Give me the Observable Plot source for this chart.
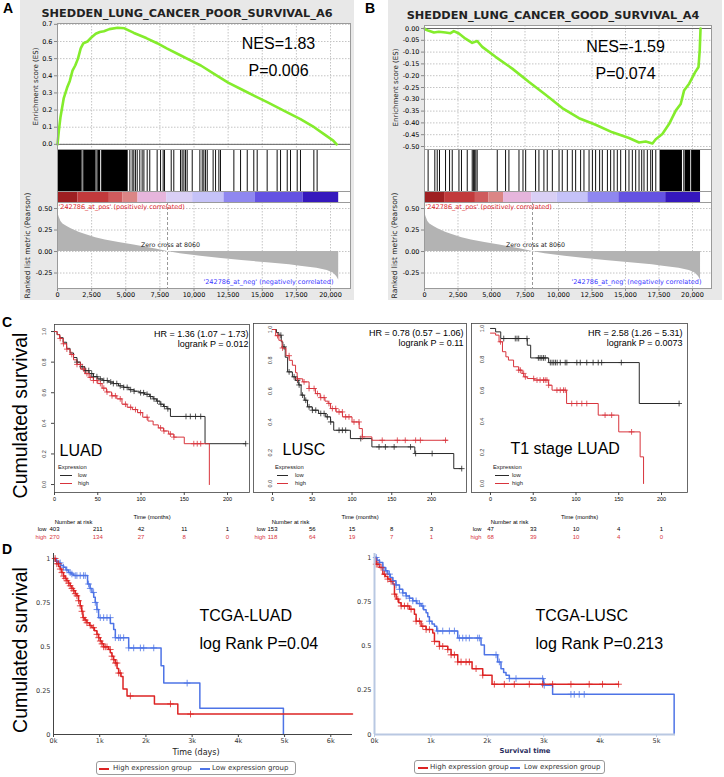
<!DOCTYPE html>
<html><head><meta charset="utf-8">
<script src="https://cdn.jsdelivr.net/npm/d3@7"></script>
<script src="https://cdn.jsdelivr.net/npm/@observablehq/plot@0.6"></script>
<style>
body{margin:0;background:#fff;}
#root{position:relative;width:724px;height:777px;overflow:hidden;font-family:"Liberation Sans",Arial,sans-serif;background:#fff;}
.abs{position:absolute;white-space:nowrap;}
</style></head><body><div id="root"></div>
<script>
// ---------------- DATA ----------------
// GSEA (panels A, B)
const rankTicks = [0, 2500, 5000, 7500, 10000, 12500, 15000, 17500, 20000];
const esTicksA = [0, 0.1, 0.2, 0.3, 0.4, 0.5, 0.6, 0.7];
const esTicksB = [0, -0.05, -0.1, -0.15, -0.2, -0.25, -0.3, -0.35, -0.4, -0.45, -0.5];
const metricTicks = [0.5, 0.25, 0, -0.25];
const zeroCross = 8060;
const esA = [[0,0],[100,0.08],[220,0.16],[460,0.27],[700,0.33],[900,0.37],[1100,0.43],[1300,0.46],[1500,0.5],[1700,0.56],[1900,0.59],[2200,0.6],[2500,0.625],[2800,0.645],[3100,0.655],[3400,0.66],[3800,0.672],[4400,0.68],[4900,0.677],[5600,0.65],[6500,0.62],[7300,0.59],[8000,0.56],[9000,0.52],[10000,0.48],[10500,0.46],[11500,0.41],[12500,0.36],[13500,0.32],[14500,0.28],[15400,0.245],[16500,0.2],[17800,0.147],[18800,0.1],[19600,0.055],[20200,0.022],[20450,0]];
const esB = [[0,0],[75,-0.004],[320,-0.01],[700,-0.017],[1070,-0.014],[1570,-0.017],[1940,-0.02],[2190,-0.011],[2570,-0.021],[3060,-0.043],[3560,-0.061],[3930,-0.053],[4310,-0.078],[5300,-0.12],[6550,-0.17],[7800,-0.227],[9040,-0.281],[10280,-0.337],[11530,-0.38],[12770,-0.408],[14020,-0.44],[15260,-0.464],[16010,-0.483],[16510,-0.479],[17010,-0.487],[17260,-0.469],[17750,-0.447],[18250,-0.405],[18750,-0.348],[19120,-0.32],[19370,-0.263],[19750,-0.234],[20200,-0.185],[20450,-0.163],[20540,-0.092],[20600,0]];
const hitBlocksA = [[0,1810],[1930,2830],[2960,3150],[3270,5180]];
const hitLinesA = [1870,2890,3210,5300,5470,5590,5710,5840,6030,6200,6330,6570,6760,7300,7550,7740,7840,8330,8520,9010,9130,9260,9380,9500,9870,10430,10600,10720,10840,10970,11400,11580,11820,11940,12920,13410,13900,14380,14630,15360,16090,16340,16830,17070,17560,17800,18780,19020];
const hitBlocksB = [[17580,19250],[19450,19870],[20000,20600]];
const hitLinesB = [270,770,950,1120,1570,1870,2070,2570,2760,3190,3560,3650,3740,3830,3930,5430,6050,6300,7050,7350,7550,8290,8540,8910,9160,9540,10040,10280,10660,11030,11280,11650,11900,12280,12530,12770,13070,13270,13650,13890,14140,14390,14640,15010,15260,15510,15760,16010,16210,16380,16630,16880,17010,17260,19350,19930];
const barEdges = [0, 1500, 3800, 4800, 5900, 8000, 9900, 12200, 14500, 18000, 20600];
const metric = [[0,0.48],[40,0.44],[120,0.4],[250,0.35],[400,0.32],[700,0.29],[1000,0.265],[1570,0.225],[2000,0.2],[2800,0.16],[3500,0.135],[4500,0.105],[5600,0.075],[6500,0.05],[7300,0.025],[8060,0],[9000,-0.025],[10480,-0.055],[12000,-0.08],[13500,-0.105],[15360,-0.13],[17000,-0.155],[17800,-0.17],[19000,-0.195],[19760,-0.22],[20200,-0.25],[20450,-0.29],[20600,-0.33]];

// Kaplan-Meier (panel C), time in months, [time, survival]
const monthTicks = [0, 50, 100, 150, 200];
const survTicks = [0, 0.2, 0.4, 0.6, 0.8, 1];
const luadLow = [[0,1],[3,0.98],[6,0.96],[10,0.93],[14,0.89],[18,0.86],[22,0.83],[26,0.8],[30,0.77],[35,0.745],[40,0.725],[45,0.705],[50,0.69],[56,0.68],[62,0.67],[68,0.66],[74,0.645],[80,0.635],[86,0.62],[92,0.61],[98,0.6],[104,0.59],[110,0.575],[114,0.56],[118,0.545],[122,0.525],[126,0.51],[130,0.495],[134,0.445],[174,0.267],[221,0.267]];
const luadHigh = [[0,1],[3,0.98],[6,0.955],[10,0.92],[14,0.885],[18,0.85],[22,0.815],[26,0.785],[30,0.755],[35,0.725],[40,0.7],[45,0.68],[50,0.66],[55,0.63],[60,0.605],[66,0.58],[72,0.56],[78,0.525],[84,0.505],[90,0.49],[96,0.47],[102,0.44],[108,0.415],[114,0.39],[120,0.37],[126,0.35],[132,0.33],[138,0.31],[150,0.267],[179,0]];
const luadLowCens = [26,32,36,39.6,43,45,49,53,57,61,65,68,72,76,80,84,88,92,99.5,103,107,111,115,119,123,127,131,152,157,163,169,221];
const luadHighCens = [6.6,10.4,14.3,20,26,29.8,33.7,37.5,41.4,45,49,53,57,60.7,66.5,70.4,76,82,88,93.6,99.4,107,122.6,126.5,134,138,161,165,169];
const luscLow = [[0,1],[5,0.98],[8,0.963],[11,0.92],[13,0.887],[16,0.82],[19,0.725],[25,0.693],[29,0.67],[33,0.64],[36,0.574],[40,0.541],[44,0.498],[50,0.476],[58,0.455],[67,0.433],[73,0.4],[77,0.346],[98,0.292],[125,0.238],[179,0.195],[228,0.097],[238,0.097]];
const luscHigh = [[0,1],[4,0.96],[8,0.93],[12,0.88],[17,0.83],[21,0.8],[25,0.768],[29,0.72],[31,0.68],[38,0.66],[46,0.617],[54,0.584],[60,0.558],[66,0.535],[70,0.52],[73,0.487],[80,0.465],[88,0.433],[100,0.4],[109,0.357],[113,0.303],[125,0.281],[220,0.281]];
const luscLowCens = [10.5,14.6,20.9,27.2,31.4,33.5,37.7,41.8,46,50.2,54.4,60.7,64.9,69,73.2,83.7,87.9,92,111,134,142,153,173.6,180,200.8,238];
const luscHighCens = [6.3,12.6,20.9,31.4,39.7,46,52.3,56.5,60.7,64.9,71,75.3,79.5,83.7,87.9,92,96.2,102.5,108.8,113,138,157,167,180,186,217.6];
const t1Low = [[0,1],[6,0.978],[12,0.935],[43,0.892],[47,0.81],[68,0.78],[174,0.516],[221,0.516]];
const t1High = [[0,0.97],[6,0.957],[10,0.914],[14,0.85],[18,0.817],[21,0.796],[27,0.753],[33,0.731],[37,0.71],[39,0.688],[43,0.677],[51,0.667],[68,0.634],[72,0.602],[89,0.516],[126,0.441],[150,0.333],[175,0.172],[179,0]];
const t1LowCens = [15.5,29,31,33,42.7,56,58,60,62,64,70,72,74,76,78,81.6,87.4,89.3,101,105,112.6,120,126,130,153,220.6];
const t1HighCens = [11.7,33,35,38.8,40.8,50.5,54.4,58,62,64,66,68,77.7,81.6,85.4,87.4,95,101,106.8,112.6,134,141.7,165];
const riskLUAD = {low:[403,211,42,11,1], high:[270,134,27,8,0]};
const riskLUSC = {low:[153,56,15,8,3], high:[118,64,19,7,1]};
const riskT1 = {low:[47,33,10,4,1], high:[68,39,10,4,0]};

// TCGA (panel D), time in days
const dayTicksLUAD = [0,1000,2000,3000,4000,5000,6000];
const dayTicksLUSC = [0,1000,2000,3000,4000,5000];
const survTicksD = [0, 0.25, 0.5, 0.75, 1];
const tcgaLuadLow = [[0,1],[60,0.985],[110,0.975],[160,0.96],[217,0.95],[270,0.935],[325,0.92],[380,0.912],[434,0.903],[737,0.855],[790,0.83],[832,0.807],[870,0.78],[904,0.75],[940,0.71],[976,0.664],[1230,0.63],[1302,0.597],[1338,0.55],[1627,0.492],[2328,0.391],[2386,0.292],[3167,0.149],[4975,0]];
const tcgaLuadHigh = [[0,1],[40,0.985],[72,0.97],[110,0.955],[145,0.94],[180,0.92],[217,0.9],[253,0.887],[289,0.874],[325,0.86],[361,0.845],[398,0.83],[434,0.817],[470,0.8],[506,0.788],[542,0.76],[578,0.731],[610,0.7],[636,0.664],[680,0.65],[723,0.635],[780,0.62],[832,0.607],[886,0.59],[940,0.569],[976,0.55],[1012,0.531],[1048,0.515],[1085,0.498],[1193,0.483],[1230,0.465],[1265,0.445],[1300,0.425],[1338,0.406],[1375,0.375],[1410,0.349],[1461,0.33],[1504,0.258],[1591,0.219],[2184,0.174],[2690,0.116],[6470,0.116]];
const tcgaLuadLowCens = [72,145,217,289,361,398,470,506,578,651,687,759,795,868,904,940,1012,1085,1157,1229,1338,1410,1446,1518,1627,1735,1880,1952,2169,2892];
const tcgaLuadHighCens = [36,72,108,145,181,217,253,289,325,361,398,434,470,506,542,578,615,651,687,723,795,868,940,976,1012,1048,1085,1121,1157,1229,1265,1302,1338,1374,1410,1446,1663,2531,2965];
const tcgaLuscLow = [[0,1],[45,0.985],[89,0.972],[148,0.944],[190,0.925],[236,0.906],[280,0.887],[325,0.868],[380,0.845],[443,0.82],[500,0.8],[561,0.783],[620,0.77],[679,0.755],[750,0.74],[826,0.726],[870,0.705],[915,0.688],[945,0.665],[974,0.64],[1020,0.625],[1063,0.612],[1104,0.585],[1476,0.545],[1889,0.506],[1948,0.45],[2184,0.41],[2243,0.372],[2290,0.35],[2332,0.335],[2391,0.316],[2999,0.278],[3158,0.227],[5313,0]];
const tcgaLuscHigh = [[0,1],[30,0.962],[89,0.944],[148,0.906],[190,0.892],[236,0.878],[280,0.865],[325,0.85],[354,0.793],[384,0.765],[430,0.745],[472,0.726],[620,0.708],[708,0.68],[738,0.64],[826,0.612],[915,0.593],[1033,0.574],[1063,0.526],[1151,0.498],[1299,0.48],[1358,0.45],[1476,0.41],[1730,0.372],[1919,0.335],[2084,0.284],[4327,0.284]];
const tcgaLuscLowCens = [30,89,148,207,266,325,384,443,502,561,620,679,738,797,856,974,1122,1210,1328,1417,1505,1564,1623,1682,1830,1860,2155,2214,2391,2509,2981,3010,3483,3542,3630,3719];
const tcgaLuscHighCens = [30,59,118,177,236,295,354,413,472,531,590,649,738,797,856,915,974,1063,1151,1210,1299,1358,1417,1476,1535,1623,1682,1801,1919,2125,2302,2479,2745,2981,3158,3483,3807,4043,4327];

// ---------------- HELPERS ----------------
const root = document.getElementById("root");
function mk(box, m, opts) {
  const [x0, y0, x1, y1] = box;
  const {fontFamily = "DejaVu Sans", ...rest} = opts;
  const svg = Plot.plot({
    width: x1 - x0 + m[1] + m[3], height: y1 - y0 + m[0] + m[2],
    marginTop: m[0], marginRight: m[1], marginBottom: m[2], marginLeft: m[3],
    ...rest,
    style: {background: "transparent", overflow: "visible", fontFamily, fontSize: "7px", color: "#000"}
  });
  svg.style.position = "absolute";
  svg.style.left = (x0 - m[3]) + "px";
  svg.style.top = (y0 - m[0]) + "px";
  root.appendChild(svg);
  return svg;
}
function div(x, y, w, h, st) {
  const d = document.createElement("div");
  d.className = "abs";
  Object.assign(d.style, {left: x + "px", top: y + "px", width: w + "px", height: h + "px"}, st || {});
  root.appendChild(d);
  return d;
}
function txt(s, x, yc, size, st) {
  const d = document.createElement("div");
  d.className = "abs";
  d.textContent = s;
  Object.assign(d.style, {left: x + "px", top: (yc - size * 0.6) + "px", fontSize: size + "px", lineHeight: (size * 1.2) + "px"}, st || {});
  root.appendChild(d);
  return d;
}
function stepAt(curve, t) {
  let s = curve[0][1];
  for (const [tt, ss] of curve) { if (tt <= t) s = ss; else break; }
  return s;
}
const cens = (curve, times) => times.map(t => [t, stepAt(curve, t)]);
// label text: centred on its anchor point
const T = (s, o) => Plot.text([s], {text: d => d, lineAnchor: "middle", ...o});

// ---------------- PANELS A / B ----------------
const GREEN = "#84ec2c";
const barColors = ["#9e1f22", "#c23a3c", "#cf5b5d", "#db8585", "#e6b5dc", "#d9cff5", "#c5c2f8", "#8f87f0", "#6452e2", "#3518bd"];
const barBins = barEdges.slice(0, -1).map((e, i) => ({x1: e, x2: barEdges[i + 1], level: i}));
const dash = {stroke: "#c4c4c4", strokeOpacity: 1, strokeDasharray: "1.5,1.5"};

function gsea(g) {
  const X = {domain: [0, g.xMax], axis: null};
  div(g.gx0, 0, g.gx1 - g.gx0, 300, {background: "#e8e8e8"});
  mk([g.fx0, g.esTop, g.fx1, 149], [18, 4, 2, 36], {
    x: X, y: {domain: g.esDomain, axis: null},
    marks: [
      Plot.frame({fill: "white", stroke: "none"}),
      Plot.gridX(rankTicks, dash),
      Plot.gridY(g.esTicks, dash),
      Plot.ruleY([0], {stroke: "#666"}),
      Plot.line(g.es, {x: d => d[0], y: d => d[1], stroke: GREEN, strokeWidth: 2.6}),
      Plot.axisY(g.esTicks, {tickSize: 3, tickPadding: 2, tickFormat: d => d.toFixed(g.esDigits), fontSize: 6.5, stroke: "#888", label: null}),
      Plot.frame({stroke: "#9a9a9a"}),
      T(g.title, {frameAnchor: "top", dy: -10, dx: g.titleDx, fontSize: 11.3, fontWeight: "bold", fill: "#222", textAnchor: "middle"}),
      T("Enrichment score (ES)", {frameAnchor: "left", dx: g.esLabDx, rotate: -90, fontSize: 7, fill: "#222", textAnchor: "middle"}),
      T(g.nes, {frameAnchor: "top-right", dx: g.nesDx, dy: g.nesDy, fontSize: 16, fontFamily: "Liberation Sans", textAnchor: "middle"}),
      T(g.p, {frameAnchor: "top-right", dx: g.nesDx, dy: g.nesDy + 27, fontSize: 16, fontFamily: "Liberation Sans", textAnchor: "middle"})
    ]
  });
  mk([g.fx0, 149, g.fx1, 191], [0, 0, 0, 0], {
    x: X,
    marks: [
      Plot.frame({fill: "white", stroke: "none"}),
      Plot.rect(g.blocks, {x1: d => d[0], x2: d => d[1], fill: "#000"}),
      Plot.ruleX(g.lines, {stroke: "#111", strokeWidth: 1}),
      Plot.frame({stroke: "#9a9a9a"})
    ]
  });
  mk([g.fx0, 191, g.fx1, 202], [0, 0, 0, 0], {
    x: X, color: {type: "ordinal", domain: barColors.map((c, i) => i), range: barColors},
    marks: [
      Plot.frame({fill: "white", stroke: "none"}),
      Plot.rect(barBins, {x1: "x1", x2: "x2", fill: "level"}),
      Plot.frame({stroke: "#9a9a9a"})
    ]
  });
  mk([g.fx0, 202, g.fx1, 288], [0, 4, 14, 36], {
    x: X, y: {domain: [-0.43, 0.57], axis: null},
    marks: [
      Plot.frame({fill: "white", stroke: "none"}),
      Plot.gridX(rankTicks, dash),
      Plot.gridY(metricTicks, dash),
      Plot.areaY(metric, {x: d => d[0], y: d => d[1], fill: "#b3b3b3"}),
      Plot.ruleX([zeroCross], {stroke: "#999", strokeDasharray: "3,2"}),
      Plot.axisX(rankTicks, {tickSize: 3, tickPadding: 1, tickFormat: d3.format(","), fontSize: 6.5, stroke: "#888", label: null}),
      Plot.axisY(metricTicks, {tickSize: 3, tickPadding: 2, tickFormat: d => d.toFixed(2), fontSize: 6.5, stroke: "#888", label: null}),
      Plot.text([zeroCross], {x: d => d, y: 0, text: d => "Zero cross at " + d, dy: -7, dx: 3, fontSize: 6.3, fill: "#222"}),
      T("'242786_at_pos' (positively correlated)", {frameAnchor: "top-left", dx: 1, dy: 4, fontSize: 6.5, fill: "#e0282e", textAnchor: "start"}),
      T("'242786_at_neg' (negatively correlated)", {frameAnchor: "bottom-right", dx: g.negDx, dy: -7, fontSize: 6.5, fill: "#3a36ff", textAnchor: "end"}),
      T("Ranked list metric (Pearson)", {frameAnchor: "left", dx: -30, rotate: -90, fontSize: 7.5, fill: "#222", textAnchor: "middle"}),
      Plot.frame({stroke: "#9a9a9a"})
    ]
  });
}

gsea({gx0: 20, gx1: 354, fx0: 57, fx1: 350, xMax: 21465, esTop: 23, esDomain: [-0.03, 0.705], esTicks: esTicksA, esDigits: 1, es: esA,
  title: "SHEDDEN_LUNG_CANCER_POOR_SURVIVAL_A6", titleDx: -17, esLabDx: -22, nes: "NES=1.83", p: "P=0.006", nesDx: -72, nesDy: 20,
  blocks: hitBlocksA, lines: hitLinesA, negDx: -17});
gsea({gx0: 388, gx1: 722, fx0: 424, fx1: 711, xMax: 21418, esTop: 25, esDomain: [-0.5127, 0.0127], esTicks: esTicksB, esDigits: 2, es: esB,
  title: "SHEDDEN_LUNG_CANCER_GOOD_SURVIVAL_A4", titleDx: -15, esLabDx: -29, nes: "NES=-1.59", p: "P=0.074", nesDx: -86, nesDy: 21,
  blocks: hitBlocksB, lines: hitLinesB, negDx: -10});

// ---------------- PANEL C ----------------
const KBLACK = "#2a2a2a", KRED = "#d8343c";
function km(c) {
  const rows = monthTicks.map((t, i) => ({t, low: c.risk.low[i], high: c.risk.high[i]}));
  const marks = [
    Plot.frame({stroke: "#444", strokeWidth: 0.8}),
    Plot.line(c.low, {x: d => d[0], y: d => d[1], curve: "step-after", stroke: KBLACK, strokeWidth: 1}),
    Plot.line(c.high, {x: d => d[0], y: d => d[1], curve: "step-after", stroke: KRED, strokeWidth: 1}),
    Plot.dot(cens(c.low, c.lowCens), {x: d => d[0], y: d => d[1], symbol: "plus", r: 2, stroke: KBLACK, strokeWidth: 0.8}),
    Plot.dot(cens(c.high, c.highCens), {x: d => d[0], y: d => d[1], symbol: "plus", r: 2, stroke: KRED, strokeWidth: 0.8}),
    Plot.axisX(monthTicks, {tickSize: 3, tickPadding: 1.5, fontSize: 5.5, stroke: "#444", label: null}),
    Plot.text(survTicks, {y: d => d, text: d => d.toFixed(1), frameAnchor: "left", dx: c.yLabDx, rotate: -90, fontSize: 5.5, fill: "#333", textAnchor: "middle", lineAnchor: "middle"}),
    T(c.hr, {frameAnchor: "top-right", dx: c.hrDx, dy: 10, fontSize: 9, textAnchor: "end"}),
    T(c.lr, {frameAnchor: "top-right", dx: c.hrDx, dy: 20, fontSize: 9, textAnchor: "end"}),
    T(c.name, {frameAnchor: "top-left", dx: c.nameDx, dy: c.nameDy, fontSize: 16, textAnchor: "start"}),
    T("Time (months)", {frameAnchor: "bottom", dy: 25, fontSize: 5.8, textAnchor: "middle"}),
    T("Number at risk", {frameAnchor: "bottom-left", dx: c.narDx, dy: 30, fontSize: 5.8, textAnchor: "middle"}),
    T("low", {frameAnchor: "bottom-left", dx: c.rowDx, dy: 37, fontSize: 5.8, textAnchor: "end"}),
    T("high", {frameAnchor: "bottom-left", dx: c.rowDx, dy: 45, fontSize: 5.8, textAnchor: "end", fill: KRED}),
    Plot.text(rows, {x: "t", text: "low", frameAnchor: "bottom", dy: 37, fontSize: 6, lineAnchor: "middle"}),
    Plot.text(rows, {x: "t", text: "high", frameAnchor: "bottom", dy: 45, fontSize: 6, fill: KRED, lineAnchor: "middle"})
  ];
  if (c.yTicks) marks.push(Plot.axisY(survTicks, {tickSize: 3, tickFormat: () => "", stroke: "#444", label: null}));
  if (c.bigLabel) marks.push(T("Cumulated survival", {frameAnchor: "left", dx: -34, dy: 7, rotate: -90, fontSize: 19.5, textAnchor: "middle"}));
  mk(c.box, [4, 4, 52, 45], {
    fontFamily: "Liberation Sans",
    x: {domain: c.xDomain, axis: null}, y: {domain: c.yDomain, axis: null},
    marks
  });
  // legend
  const [lx, ly] = c.leg;
  txt("Expression", lx, ly, 5.8, {color: "#222"});
  div(lx + 2, ly + 8, c.legW, 0, {borderTop: "1px solid " + KBLACK});
  txt("low", lx + c.legTx, ly + 8, 5.8, {color: "#222"});
  div(lx + 2, ly + 16, c.legW, 0, {borderTop: "1px solid " + KRED});
  txt("high", lx + c.legTx, ly + 16, 5.8, {color: "#222"});
}
km({box: [54, 324, 249, 492], xDomain: [0, 225.4], yDomain: [-0.052, 1.046], low: luadLow, high: luadHigh, lowCens: luadLowCens, highCens: luadHighCens,
  yLabDx: -10, yTicks: true, hr: "HR = 1.36 (1.07 \u2212 1.73)", lr: "logrank P = 0.012", hrDx: -1, name: "LUAD", nameDx: 5, nameDy: 126,
  narDx: 19, rowDx: -8, risk: riskLUAD, bigLabel: true, leg: [58, 467], legW: 12, legTx: 20});
km({box: [253, 323, 466, 492], xDomain: [-23.9, 244], yDomain: [-0.058, 1.039], low: luscLow, high: luscHigh, lowCens: luscLowCens, highCens: luscHighCens,
  yLabDx: 17, yTicks: false, hr: "HR = 0.78 (0.57 \u2212 1.06)", lr: "logrank P = 0.11", hrDx: -3, name: "LUSC", nameDx: 29, nameDy: 126,
  narDx: 37, rowDx: 12, risk: riskLUSC, bigLabel: false, leg: [275, 467], legW: 11, legTx: 20});
km({box: [471, 323, 687, 492], xDomain: [-22.2, 230.4], yDomain: [-0.058, 1.032], low: t1Low, high: t1High, lowCens: t1LowCens, highCens: t1HighCens,
  yLabDx: 11, yTicks: false, hr: "HR = 2.58 (1.26 \u2212 5.31)", lr: "logrank P = 0.0073", hrDx: -5, name: "T1 stage LUAD", nameDx: 39, nameDy: 125,
  narDx: 38, rowDx: 10, risk: riskT1, bigLabel: false, leg: [493, 467], legW: 14, legTx: 19});

// ---------------- PANEL D ----------------
const DRED = "#dd2424", DBLUE = "#4e74e6";
function tcga(t) {
  const marks = [
    Plot.line(t.low, {x: d => d[0], y: d => d[1], curve: "step-after", stroke: DBLUE, strokeWidth: 1.5}),
    Plot.line(t.high, {x: d => d[0], y: d => d[1], curve: "step-after", stroke: DRED, strokeWidth: 1.5}),
    Plot.dot(cens(t.low, t.lowCens), {x: d => d[0], y: d => d[1], symbol: "plus", r: 2.3, stroke: DBLUE, strokeOpacity: 0.8, strokeWidth: 1}),
    Plot.dot(cens(t.high, t.highCens), {x: d => d[0], y: d => d[1], symbol: "plus", r: 2.3, stroke: DRED, strokeOpacity: 0.8, strokeWidth: 1}),
    Plot.ruleX([0], {stroke: t.axisColor, strokeWidth: t.axisW}),
    Plot.ruleY([0], {stroke: t.axisColor, strokeWidth: t.axisW}),
    Plot.axisX(t.ticks, {tickSize: 3, tickPadding: 1, tickFormat: d => (d / 1000) + "k", fontSize: 6.5, stroke: t.axisColor, fill: "#333", label: null}),
    Plot.axisY(survTicksD, {tickSize: 0, tickPadding: 3, tickFormat: d => String(d), fontSize: 6.5, fill: "#333", label: null}),
    T(t.xlab, {frameAnchor: "bottom", dx: t.xlabDx, dy: t.xlabDy, fontSize: t.xlabSize, fontWeight: t.xlabWeight, fill: t.xlabColor, textAnchor: "middle"}),
    T(t.name, {frameAnchor: "top-left", dx: t.nameDx, dy: 62, fontSize: 16, fontFamily: "Liberation Sans", textAnchor: "start"}),
    T(t.p, {frameAnchor: "top-left", dx: t.nameDx, dy: 90, fontSize: 16, fontFamily: "Liberation Sans", textAnchor: "start"})
  ];
  if (t.bigLabel) marks.push(T("Cumulated survival", {frameAnchor: "left", dx: -33, dy: 6, rotate: -90, fontSize: 19.5, fontFamily: "Liberation Sans", textAnchor: "middle"}));
  mk(t.box, [4, 4, 22, 40], {
    x: {domain: t.xDomain, axis: null}, y: {domain: t.yDomain, axis: null},
    marks
  });
  const [bx, by, bw, rx, btx, bx2, btx2] = t.leg;
  div(bx, by, bw, 12, {border: "1px solid #9a9a9a", borderRadius: "3px", background: "#fff"});
  div(rx, by + 7, 10, 0, {borderTop: "2px solid " + DRED});
  txt("High expression group", btx, by + 7.5, 7, {fontFamily: "DejaVu Sans", color: "#333"});
  div(bx2, by + 7, 10, 0, {borderTop: "2px solid " + DBLUE});
  txt("Low expression group", btx2, by + 7.5, 7, {fontFamily: "DejaVu Sans", color: "#333"});
}
tcga({box: [53, 553, 352, 734], xDomain: [0, 6470], yDomain: [0, 1.0284], ticks: dayTicksLUAD,
  low: tcgaLuadLow, high: tcgaLuadHigh, lowCens: tcgaLuadLowCens, highCens: tcgaLuadHighCens,
  axisColor: "#444", axisW: 1, xlab: "Time (days)", xlabDx: -7, xlabDy: 18, xlabSize: 8, xlabWeight: "normal", xlabColor: "#222",
  name: "TCGA-LUAD", p: "log Rank P=0.04", nameDx: 146, bigLabel: true,
  leg: [96, 761, 198, 99, 113, 200, 212]});
tcga({box: [374, 553, 675, 734], xDomain: [0, 5337], yDomain: [0, 1.0226], ticks: dayTicksLUSC,
  low: tcgaLuscLow, high: tcgaLuscHigh, lowCens: tcgaLuscLowCens, highCens: tcgaLuscHighCens,
  axisColor: "#b9c8e2", axisW: 2, xlab: "Survival time", xlabDx: 0, xlabDy: 16, xlabSize: 6.8, xlabWeight: "bold", xlabColor: "#2b2f5e",
  name: "TCGA-LUSC", p: "log Rank P=0.213", nameDx: 161, bigLabel: false,
  leg: [414, 760, 189, 418, 430, 510, 524]});

// ---------------- panel letters ----------------
txt("A", 3, 8, 14, {fontWeight: "bold"});
txt("B", 365, 8, 14, {fontWeight: "bold"});
txt("C", 2, 322, 14, {fontWeight: "bold"});
txt("D", 2, 549, 14, {fontWeight: "bold"});
</script></body></html>
